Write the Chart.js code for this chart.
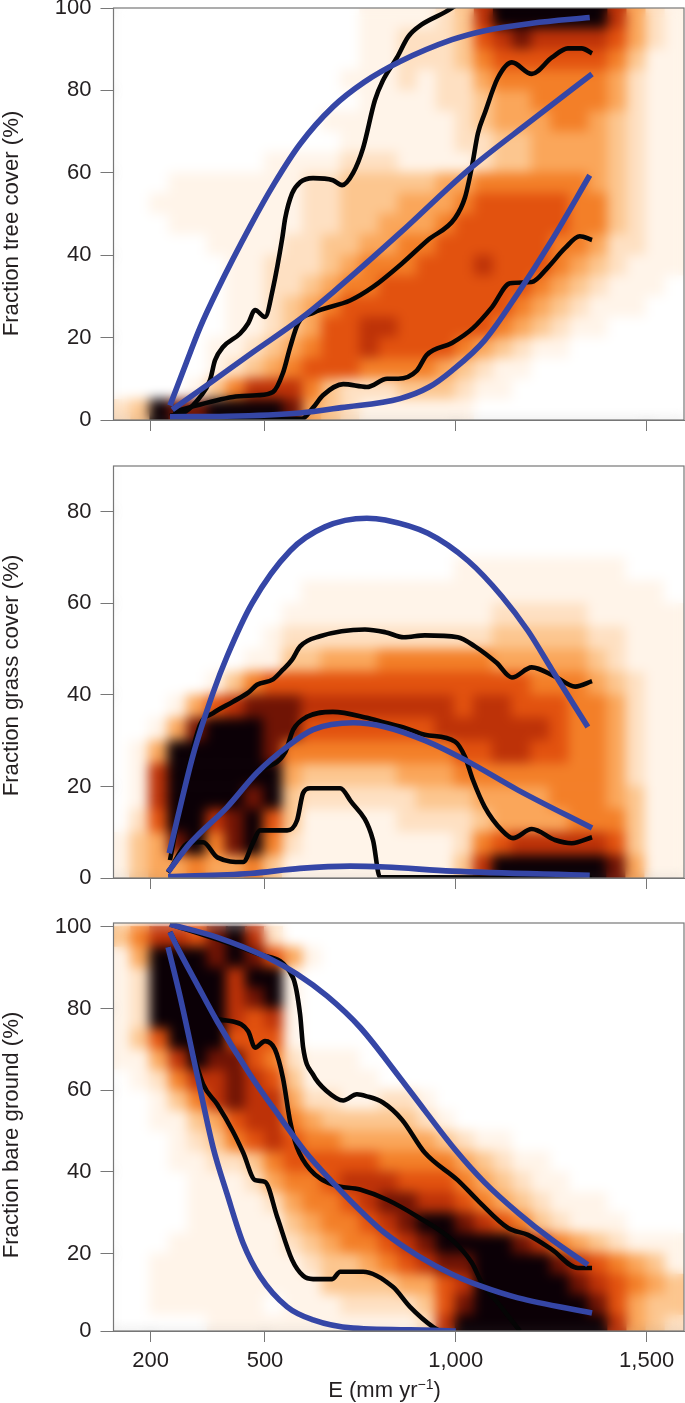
<!DOCTYPE html>
<html><head><meta charset="utf-8">
<script src="https://cdn.jsdelivr.net/npm/chart.js@4"></script>
<style>
html,body{margin:0;padding:0;background:#fff;width:685px;height:1403px;overflow:hidden}
canvas{position:absolute;left:0}
</style></head><body>
<canvas id="c1" width="685" height="461" style="top:-16px;width:685px;height:461px"></canvas>
<canvas id="c2" width="685" height="463" style="top:440px;width:685px;height:463px"></canvas>
<canvas id="c3" width="685" height="506" style="top:897px;width:685px;height:506px"></canvas>
<script>
const xTicks=[200,500,1000,1500];
const heatColumns=[125,175,225,275,325,375,425,475,525,575,625,675,725,775,825,875,925,975,1025,1075,1125,1175,1225,1275,1325,1375,1425,1475,1525,1575];
const heatColors=['#ffffff','#fff4e9','#fee0c2','#fcc68f','#faa65a','#f37f28','#e2520f','#bd3208','#701405','#0b0006'];

const treeRowValues=[97.5,92.5,87.5,82.5,77.5,72.5,67.5,62.5,57.5,52.5,47.5,42.5,37.5,32.5,27.5,22.5,17.5,12.5,7.5,2.5];
const treeHeat=[
"000000000000011112379999997421",
"000000000000011222367877776421",
"000000000000011222356666665311",
"000000000000111212245555554211",
"000000000000011112234455554211",
"000000000001111111234445543211",
"000000000000111111223344443211",
"000000001111222111123344443211",
"000111111122333334455555543211",
"001111111122333444566666553211",
"000111111122334445666666553211",
"000001111223344556666665542211",
"000000112223455566676665432111",
"000000112234556666666654321110",
"000000112345666666666543211100",
"000000112346677666665432110000",
"000001123456676666543211000000",
"000001234566655554321100000000",
"000013577753222333211000000000",
"239889999843211111100000000000"];

const grassRowValues=[87.5,82.5,77.5,72.5,67.5,62.5,57.5,52.5,47.5,42.5,37.5,32.5,27.5,22.5,17.5,12.5,7.5,2.5];
const grassHeat=[
"000000000000000000000000000000",
"000000000000000000000000000000",
"000000000000000000000000000000",
"000000000000000000000000000000",
"000000000000000000111111111000",
"000000000011111111111111111110",
"000000000111111111112222211111",
"000000001222222222223333322111",
"000000011334445555554444432111",
"000001356666666666666655543211",
"000146788877777777677666554211",
"001489998866666667777776554211",
"014999998555555555667766554211",
"017999999433333444555555554211",
"017999989322222233344445554311",
"026997896311111222234444555311",
"134895895211111111256777776311",
"134454453111111111379999998411"];

const bareRowValues=treeRowValues;
const bareHeat=[
"357768972000000000000000000000",
"149998986410000000000000000000",
"129999799100000000000000000000",
"129999789100000000000000000000",
"129999767100000000000000000000",
"136999666100000000000000000000",
"114798865211100000000000000000",
"012577876311110000000000000000",
"001357877422112210000000000000",
"001134677543333321000000000000",
"000123567655444443211000000000",
"000112235666665555432110000000",
"000011124556777666543211000000",
"000011112455678877654321110000",
"000011111345567899876532111000",
"000111111234556789999875432111",
"001111111123345678899998765431",
"001111111113333446799999876543",
"001111110111222236899999986433",
"000001111111111127999999997432"];

const treeBlueUpper=[[251,3.5],[290,13],[330,22.5],[375,31.5],[461,47],[525,57.5],[592,67],[678,76],[760,82],[854,87],[990,92.3],[1076,94.5],[1200,96.3],[1351,97.7]];
const treeBlueMiddle=[[257,2.5],[356,9],[469,16.5],[592,24.5],[678,31],[854,45.4],[1032,60.6],[1200,72.8],[1357,84]];
const treeBlueLower=[[251,0.8],[400,0.9],[592,1.7],[700,3],[854,5.2],[930,8],[990,12],[1076,19.4],[1163,30.8],[1252,43.7],[1351,59.4]];
const treeBlackUpper=[[251,1],[291,2],[330,5.6],[356,9.7],[369,14.5],[390,17.7],[435,21],[456,23.5],[474,26.7],[500,25],[521,32],[545,44],[553,49],[571,55],[592,57.7],[626,58.7],[678,58.2],[702,57],[731,60],[757,66],[788,77.6],[809,82.4],[846,88],[875,93],[911,96],[972,99],[998,100.5]];
const treeBlackMiddle=[[259,2],[416,5.6],[479,6],[521,6.8],[547,11.4],[566,17.7],[587,23.5],[626,26],[723,29],[783,32.3],[859,38],[927,43.7],[998,49],[1024,54],[1042,61.4],[1058,69.6],[1076,74.5],[1110,83],[1147,86.8],[1199,84],[1252,88],[1294,90.2],[1330,90.2],[1357,89]];
const treeBlackLower=[[251,0.3],[597,0.3],[626,3],[652,6],[705,8.7],[767,8],[820,10],[849,10],[898,12],[924,15.8],[990,18.7],[1045,22.3],[1095,27.4],[1142,33.2],[1199,33.5],[1241,37],[1286,41.7],[1325,44.6],[1357,43.7]];

const grassBlueUpper=[[249,5.4],[312,27],[364,40.5],[401,48.5],[466,60],[566,71.5],[657,76.7],[767,78.6],[815,78.2],[927,75.3],[1032,69.3],[1121,61.5],[1189,54],[1252,45.5],[1346,33]];
const grassBlueMiddle=[[246,1.3],[304,7.6],[401,15.5],[479,23],[558,28.7],[626,32.4],[731,33.9],[815,33],[920,30],[1024,25.8],[1163,19.2],[1357,10.9]];
const grassBlueLower=[[246,0.3],[461,1],[592,2.1],[723,2.6],[815,2.4],[990,1.5],[1351,0.6]];
const grassBlackUpper=[[251,3.9],[291,21],[330,33.5],[364,36],[416,38.5],[456,40.5],[479,42.2],[521,43.4],[547,45.5],[571,47.7],[592,50.6],[644,52.8],[762,54.3],[815,53.7],[864,52.6],[919,53],[1005,52.6],[1050,50.6],[1107,47],[1147,43.8],[1199,46],[1260,44],[1313,41.8],[1357,43]];
const grassBlackMiddle=[[246,1.3],[304,7.6],[401,15.5],[479,23],[553,27.5],[574,32.4],[610,35.2],[678,36.3],[767,35],[815,33.9],[867,32.8],[919,31.3],[998,29.8],[1024,26.5],[1045,21.4],[1076,15.5],[1121,10.4],[1150,8.7],[1199,10.7],[1260,8.3],[1304,7.6],[1357,8.9]];
const grassBlackLower=[[246,1.2],[304,7.8],[338,7.8],[375,4.5],[443,3.5],[469,7.8],[487,10.4],[558,10.4],[584,12.6],[600,18.6],[618,19.6],[697,19.6],[723,17],[783,8.3],[801,0.2],[1357,0]];

const bareBlueUpper=[[251,100.6],[375,97.4],[505,92.5],[584,88.4],[663,83],[749,75.4],[854,63],[919,55],[998,45.5],[1076,37.4],[1163,30],[1252,23.4],[1346,17.3]];
const bareBlueMiddle=[[251,98.7],[270,95],[322,85.9],[375,76.8],[461,63.8],[540,53.3],[605,45],[678,37.4],[767,29],[815,25],[901,19.5],[990,15],[1068,12],[1163,9.2],[1357,5.5]];
const bareBlueLower=[[246,95],[278,82.7],[322,63.8],[364,46],[401,34.5],[443,22.5],[487,14.5],[558,7],[626,3.8],[731,1.8],[940,1.3],[1000,1.1]];
const bareBlackUpper=[[251,100.6],[375,96.9],[487,93.2],[573,87.6],[592,78.5],[600,70.4],[626,63.8],[663,59.7],[705,57.5],[741,59],[767,58.5],[809,57],[859,52.8],[919,44.7],[1005,38],[1058,33],[1137,26.3],[1189,24.6],[1252,21],[1320,16.5],[1357,16.5]];
const bareBlackMiddle=[[251,98.7],[322,86],[369,77.8],[416,76.8],[456,74.4],[474,70.4],[500,72],[526,70],[547,63],[566,52.3],[584,46],[618,40.6],[678,36.9],[749,35.7],[820,33.2],[901,29],[990,23.4],[1042,17.8],[1068,12.9],[1110,8],[1168,1.1]];
const bareBlackLower=[[246,95],[278,82.7],[304,72],[338,61.4],[375,56.5],[416,49.9],[443,44.7],[474,38],[500,37.6],[532,29],[571,18.5],[600,14.6],[626,13.8],[676,13.8],[697,15.6],[757,15.6],[835,11.9],[880,7],[940,2.1],[959,1.1]];

const FONT='"Liberation Sans", Arial, sans-serif';
const TEXT='#231f20', FRAME='#777777', BLUE='#3546a6', BLACK='#050505';
const toPts=a=>a.map(p=>({x:p[0],y:p[1]}));
const cells=(rows,vals)=>{const o=[];rows.forEach((r,i)=>{[...r].forEach((d,j)=>{o.push({x:heatColumns[j],y:vals[i],v:+d});});});return o;};
const line=(d,c,w,o)=>({type:'line',data:toPts(d),borderColor:c,borderWidth:w,pointRadius:0,cubicInterpolationMode:'monotone',borderCapStyle:'butt',borderJoinStyle:'round',order:o,fill:false});

const framePlugin={id:'frame',
 afterDatasetDraw(ch,a){
  if(!ch.data.datasets[a.index].isHeat)return;
  const {ctx,chartArea:A}=ch;
  ctx.save();ctx.beginPath();ctx.rect(A.left,A.top,A.right-A.left,A.bottom-A.top);ctx.clip();
  ctx.filter='blur(6px)';ctx.drawImage(ctx.canvas,0,0);ctx.restore();
 },
 afterDraw(ch){
  const {ctx,chartArea:A}=ch,o=ch.options.plugins.frame;
  ctx.save();ctx.strokeStyle=FRAME;ctx.lineWidth=1.2;ctx.strokeRect(A.left,A.top,A.right-A.left,A.bottom-A.top);
  ctx.fillStyle=TEXT;
  ctx.save();ctx.translate(o.titleX,o.titleY);ctx.rotate(-Math.PI/2);ctx.textAlign='center';ctx.textBaseline='alphabetic';ctx.font='22.2px '+FONT;ctx.fillText(o.title,0,0);ctx.restore();
  if(o.xTitle){
   const a='E (mm yr',b='\u22121',c=')',big='22px '+FONT,small='14px '+FONT;
   ctx.textBaseline='alphabetic';ctx.textAlign='left';
   ctx.font=big;const wa=ctx.measureText(a).width,wc=ctx.measureText(c).width;
   ctx.font=small;const wb=ctx.measureText(b).width;
   let x=384.5-(wa+wb+wc)/2;const y=o.xTitleY;
   ctx.font=big;ctx.fillText(a,x,y);x+=wa;
   ctx.font=small;ctx.fillText(b,x,y-8);x+=wb;
   ctx.font=big;ctx.fillText(c,x,y);
  }
  ctx.restore();
 },
 beforeDatasetsDraw(ch){const {ctx,chartArea:A}=ch;ctx.save();ctx.fillStyle='#fff';ctx.fillRect(A.left,A.top,A.right-A.left,A.bottom-A.top);ctx.restore();}
};

function panel(id,o){
 new Chart(document.getElementById(id),{
  type:'scatter',
  data:{datasets:[
   ...o.blue.map(d=>line(d,BLUE,5.6,1)),
   ...o.black.map(d=>line(d,BLACK,4.6,2)),
   {type:'scatter',isHeat:true,data:cells(o.heat,o.rows),order:3,pointStyle:'rect',pointRadius:o.radius,pointHoverRadius:o.radius,pointBorderWidth:0,borderWidth:0,
    backgroundColor:c=>heatColors[c.raw?c.raw.v:0]}
  ]},
  plugins:[framePlugin],
  options:{responsive:false,animation:false,devicePixelRatio:1,
   layout:{autoPadding:false,padding:{left:0,right:1,top:o.top,bottom:0}},
   plugins:{legend:{display:false},tooltip:{enabled:false},frame:{title:o.title,titleX:17.5,titleY:o.titleY,xTitle:o.xLabels,xTitleY:1397-897}},
   scales:{
    x:{type:'linear',min:103,max:1598,
     afterBuildTicks:s=>{s.ticks=xTicks.map(v=>({value:v}));},
     afterFit:s=>{s.height=o.xHeight;},
     border:{color:FRAME,width:1},
     grid:{drawOnChartArea:false,drawTicks:true,tickLength:11,color:FRAME,tickColor:FRAME},
     ticks:{display:o.xLabels,autoSkip:false,maxRotation:0,padding:6,color:TEXT,font:{family:FONT,size:22},callback:v=>v.toLocaleString('en-US')},
     title:{display:false}
    },
    y:{type:'linear',min:o.ymin,max:o.ymax,
     afterBuildTicks:s=>{s.ticks=o.yTicks.map(v=>({value:v}));},
     afterFit:s=>{s.width=113.5;},
     border:{color:FRAME,width:1},
     grid:{drawOnChartArea:false,drawTicks:true,tickLength:13,color:FRAME,tickColor:FRAME},
     ticks:{autoSkip:false,padding:9,color:TEXT,font:{family:FONT,size:22},callback:v=>o.yLabel(v)},
     title:{display:false}
    }
   }
  }
 });
}
panel('c1',{top:24,xHeight:25,titleY:239.5,xLabels:false,heat:treeHeat,rows:treeRowValues,radius:15,ymin:0,ymax:100,yTicks:[0,20,40,60,80,100],yLabel:v=>String(v),title:'Fraction tree cover (%)',
 blue:[treeBlueUpper,treeBlueMiddle,treeBlueLower],black:[treeBlackUpper,treeBlackMiddle,treeBlackLower]});
panel('c2',{top:26,xHeight:25,titleY:235.5,xLabels:false,heat:grassHeat,rows:grassRowValues,radius:16.5,ymin:0,ymax:90,yTicks:[0,20,40,60,80],yLabel:v=>String(v),title:'Fraction grass cover (%)',
 blue:[grassBlueUpper,grassBlueMiddle,grassBlueLower],black:[grassBlackUpper,grassBlackMiddle,grassBlackLower]});
panel('c3',{top:26,xHeight:72,titleY:238,xLabels:true,heat:bareHeat,rows:bareRowValues,radius:15,ymin:1.1,ymax:100.9,yTicks:[1.1,20,40,60,80,100],yLabel:v=>v<2?'0':String(v),title:'Fraction bare ground (%)',
 blue:[bareBlueUpper,bareBlueMiddle,bareBlueLower],black:[bareBlackUpper,bareBlackMiddle,bareBlackLower]});
</script>
</body></html>
